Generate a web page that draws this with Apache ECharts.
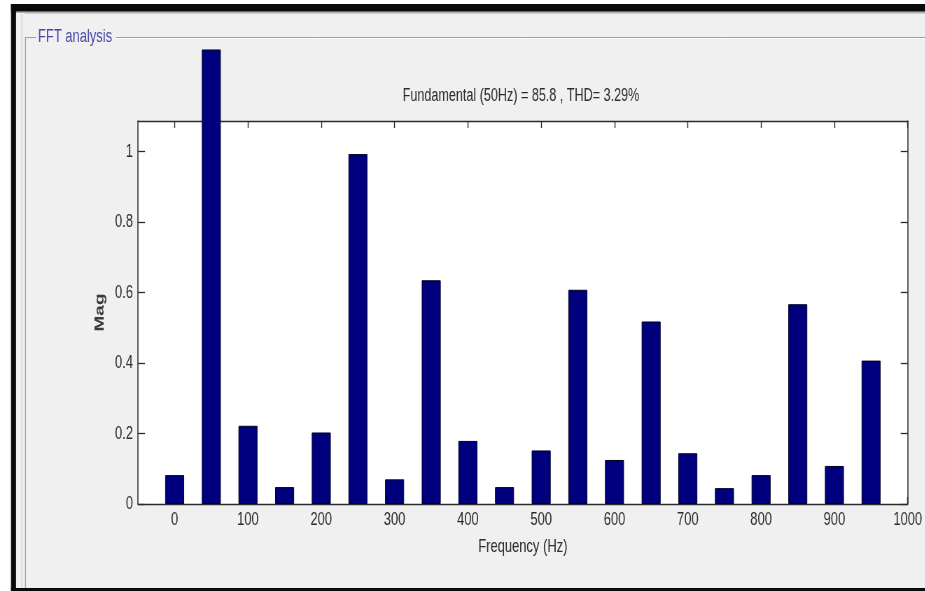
<!DOCTYPE html>
<html>
<head>
<meta charset="utf-8">
<script src="https://cdn.jsdelivr.net/npm/echarts@6/dist/echarts.min.js"></script>
<style>
  html, body { margin: 0; padding: 0; width: 925px; height: 591px; overflow: hidden; background: #ffffff; }
  #chart { position: absolute; left: 0; top: 0; height: 591px; transform-origin: 0 0; }
</style>
</head>
<body>
<div id="chart"></div>
<script>
// Harmonic spectrum (bar per 50 Hz bin)
const frequencies = [0, 50, 100, 150, 200, 250, 300, 350, 400, 450, 500, 550, 600, 650, 700, 750, 800, 850, 900, 950];
const magnitudes  = [0.082, 1.29, 0.222, 0.048, 0.203, 0.993, 0.070, 0.635, 0.179, 0.048,
                     0.152, 0.608, 0.125, 0.518, 0.144, 0.045, 0.082, 0.567, 0.108, 0.407];
const xTickValues = [0, 100, 200, 300, 400, 500, 600, 700, 800, 900, 1000];
const yTickValues = [0, 0.2, 0.4, 0.6, 0.8, 1];
const xRange = [-50, 1000];
const yRange = [0, 1.087];

const panelTitle = 'FFT analysis';
const plotTitle  = 'Fundamental (50Hz) = 85.8 , THD= 3.29%';
const xName = 'Frequency (Hz)';
const yName = 'Mag';

// The figure is laid out wide and then condensed horizontally.
const SQUEEZE = 0.7;
const W = 925, H = 591;
const CW = W / SQUEEZE;
const px = x => x / SQUEEZE;

const el = document.getElementById('chart');
el.style.width = CW + 'px';
el.style.transform = 'scaleX(' + SQUEEZE + ')';

const FONT = "'Liberation Sans', Arial, Helvetica, sans-serif";
const TEXT = '#2c2c2c';
const AXIS = '#2a2a2a';

const plot = { left: 138, top: 121, right: 908, bottom: 504 };

const chart = echarts.init(el, null, { renderer: 'canvas' });

const tickLabel = { fontFamily: FONT, fontSize: 18.5, color: TEXT };

chart.setOption({
  backgroundColor: '#f0f0f0',
  animation: false,
  textStyle: { fontFamily: FONT },
  grid: {
    left: px(plot.left),
    top: plot.top,
    right: CW - px(plot.right),
    bottom: H - plot.bottom,
    show: true,
    backgroundColor: '#ffffff',
    borderWidth: 0,
    outerBoundsMode: 'none'
  },
  graphic: [
    // window frame and panel edges
    { type: 'rect', z: 0, shape: { x: 0, y: 0, width: CW, height: 4 }, style: { fill: '#ffffff' } },
    { type: 'rect', z: 0, shape: { x: 0, y: 0, width: px(11), height: H }, style: { fill: '#ffffff' } },
    { type: 'rect', z: 0, shape: { x: px(11), y: 4, width: CW, height: 7 }, style: { fill: '#0a0a0a' } },
    { type: 'rect', z: 0, shape: { x: px(11), y: 11, width: CW, height: 1.5 }, style: { fill: '#6a6a6a' } },
    { type: 'rect', z: 0, shape: { x: px(11), y: 4, width: px(5), height: H }, style: { fill: '#0a0a0a' } },
    { type: 'rect', z: 0, shape: { x: px(11), y: 588, width: CW, height: 3 }, style: { fill: '#0a0a0a' } },
    { type: 'line', z: 0, shape: { x1: px(25), y1: 13.5, x2: CW, y2: 13.5 }, style: { stroke: '#cfcfcf', lineWidth: 1 } },
    { type: 'line', z: 0, shape: { x1: px(22), y1: 13.5, x2: px(22), y2: 588 }, style: { stroke: '#cfcfcf', lineWidth: 1.4 } },
    // group box outline
    { type: 'line', z: 0, shape: { x1: px(25), y1: 37.5, x2: px(36), y2: 37.5 }, style: { stroke: '#a0a0a0', lineWidth: 1 } },
    { type: 'line', z: 0, shape: { x1: px(116), y1: 37.5, x2: CW, y2: 37.5 }, style: { stroke: '#a0a0a0', lineWidth: 1 } },
    { type: 'line', z: 0, shape: { x1: px(116), y1: 38.5, x2: CW, y2: 38.5 }, style: { stroke: '#ffffff', lineWidth: 1 } },
    { type: 'line', z: 0, shape: { x1: px(25.5), y1: 37.5, x2: px(25.5), y2: 588 }, style: { stroke: '#a0a0a0', lineWidth: 1.4 } },
    { type: 'text', z: 1, x: px(38), y: 37, style: {
        text: panelTitle, fontFamily: FONT, fontSize: 18.5, fill: '#4646a8',
        textAlign: 'left', textVerticalAlign: 'middle' } },
    // plot heading
    { type: 'text', z: 1, x: px(521), y: 96, style: {
        text: plotTitle, fontFamily: FONT, fontSize: 18, fill: TEXT,
        textAlign: 'center', textVerticalAlign: 'middle' } }
  ],
  xAxis: [
    {
      type: 'value', position: 'bottom', min: xRange[0], max: xRange[1],
      name: xName, nameLocation: 'middle', nameGap: 33,
      nameTextStyle: { fontFamily: FONT, fontSize: 18.5, color: TEXT },
      axisLine: { show: true, onZero: false, lineStyle: { color: AXIS, width: 1.3 } },
      axisTick: { show: true, inside: true, length: 7, customValues: xTickValues, lineStyle: { color: AXIS, width: 1.4 } },
      axisLabel: Object.assign({ margin: 6, customValues: xTickValues, formatter: v => String(v) }, tickLabel),
      splitLine: { show: false }
    },
    {
      type: 'value', position: 'top', min: xRange[0], max: xRange[1],
      axisLine: { show: true, onZero: false, lineStyle: { color: AXIS, width: 1.3 } },
      axisTick: { show: true, inside: true, length: 7, customValues: xTickValues, lineStyle: { color: AXIS, width: 1.4 } },
      axisLabel: { show: false },
      splitLine: { show: false }
    }
  ],
  yAxis: [
    {
      type: 'value', position: 'left', min: yRange[0], max: yRange[1],
      name: yName, nameLocation: 'middle', nameGap: 45, nameRotate: 90,
      nameTextStyle: { fontFamily: FONT, fontSize: 19, fontWeight: 'bold', color: '#3a3a3a' },
      axisLine: { show: true, onZero: false, lineStyle: { color: AXIS, width: 1.5 } },
      axisTick: { show: true, inside: true, length: px(7), customValues: yTickValues, lineStyle: { color: AXIS, width: 1.3 } },
      axisLabel: Object.assign({ margin: px(5), customValues: yTickValues, formatter: v => String(v) }, tickLabel),
      splitLine: { show: false }
    },
    {
      type: 'value', position: 'right', min: yRange[0], max: yRange[1],
      axisLine: { show: true, onZero: false, lineStyle: { color: AXIS, width: 1.5 } },
      axisTick: { show: true, inside: true, length: px(7), customValues: yTickValues, lineStyle: { color: AXIS, width: 1.3 } },
      axisLabel: { show: false },
      splitLine: { show: false }
    }
  ],
  series: [
    {
      type: 'bar',
      xAxisIndex: 0,
      yAxisIndex: 0,
      clip: false,
      barWidth: px(19),
      data: frequencies.map((f, i) => [f, magnitudes[i]]),
      itemStyle: { color: '#00007f', borderColor: '#000022', borderWidth: 1 },
      z: 3
    }
  ]
});
</script>
</body>
</html>
